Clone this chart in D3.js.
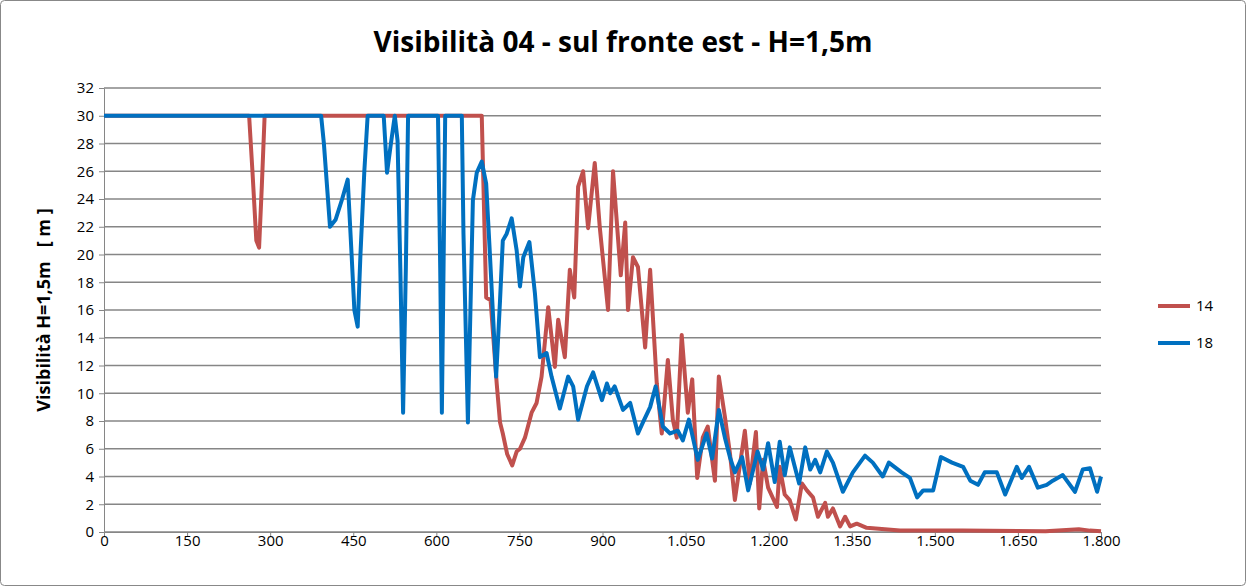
<!DOCTYPE html>
<html><head><meta charset="utf-8">
<script src="https://cdn.jsdelivr.net/npm/d3@7"></script>
<style>body{margin:0;background:#fff}text{font-family:"Open Sans","Liberation Sans",sans-serif}</style>
</head><body><svg id="c" width="1246" height="586"></svg>
<script>
const xTicks=[0,150,300,450,600,750,900,1050,1200,1350,1500,1650,1800];
const xTickLabels=["0","150","300","450","600","750","900","1.050","1.200","1.350","1.500","1.650","1.800"];
const yTicks=d3.range(0,33,2);
const seriesNames=["14","18"];
const colors=["#C0504D","#0070C0"];
const x14=[0,262,268,275,280,285,290,682,690,698,709,715,720,728,737,745,751,760,772,781,790,802,814,820,832,841,849,856,865,874,886,895,910,919,933,941,946,955,964,977,986,998,1007,1018,1027,1034,1043,1054,1062,1071,1081,1090,1103,1110,1121,1130,1139,1157,1166,1177,1183,1190,1199,1215,1220,1229,1238,1249,1260,1269,1280,1289,1302,1307,1316,1329,1338,1347,1359,1377,1437,1550,1700,1760,1780,1800];
const y14=[30,30,26,21,20.5,25,30,30,16.9,16.7,10.7,7.9,7.1,5.6,4.8,5.8,6,6.8,8.6,9.3,11.2,16.2,11.9,15.3,12.6,18.9,16.9,24.9,26,21.9,26.6,22,16,26,18.5,22.3,16,19.8,19.1,13.3,18.9,10.7,7.1,12.4,8.1,6.8,14.2,8.6,11,3.9,6.8,7.6,3.7,11.2,8.3,5.7,2.3,7.3,3.5,7.2,1.7,5.2,3.2,1.8,4.7,2.7,2.3,0.9,3.5,3,2.5,1.1,2.1,1.1,1.7,0.4,1.1,0.4,0.6,0.3,0.1,0.1,0.05,0.2,0.1,0.05];
const x18=[0,392,397,408,418,430,440,447,452,458,463,470,476,505,511,518,525,530,535,540,545,549,603,607,610,613,616,646,649,657,666,673,682,690,697,708,715,720,727,736,745,751,757,768,778,787,799,808,823,838,847,856,872,883,899,908,914,922,937,950,964,973,986,996,1009,1022,1036,1045,1056,1072,1088,1098,1110,1121,1130,1139,1152,1163,1180,1190,1199,1211,1220,1229,1238,1255,1266,1275,1284,1293,1305,1316,1334,1352,1374,1388,1406,1417,1440,1455,1468,1479,1497,1511,1531,1551,1564,1578,1590,1612,1627,1648,1657,1670,1686,1702,1713,1731,1753,1767,1780,1793,1800];
const y18=[30,30,28,22,22.5,24,25.4,20,16,14.8,20,26,30,30,25.9,28,30,28.2,19,8.6,19.1,30,30,19,8.6,19,30,30,21.5,7.9,23.9,25.9,26.7,25.1,19.8,11.2,16.7,21,21.5,22.6,20.3,17.7,19.8,20.9,17.2,12.6,12.9,11.2,8.9,11.2,10.5,8.1,10.5,11.5,9.5,10.7,10,10.5,8.8,9.3,7.1,7.9,9,10.5,7.6,7.1,7.3,6.6,8.1,5.2,7.1,5.3,8.8,6.8,5.4,4.3,5.4,3,5.8,4.5,6.4,3.6,6.5,4.1,6.1,3.5,6.1,4.5,5.2,4.3,5.8,5,2.9,4.3,5.5,5,4,5,4.3,3.9,2.5,3,3,5.4,5,4.7,3.7,3.4,4.3,4.3,2.7,4.7,3.9,4.7,3.2,3.4,3.7,4.1,2.9,4.5,4.6,2.9,4];

const svg=d3.select("#c");
svg.append("rect").attr("x",0.5).attr("y",0.5).attr("width",1245).attr("height",585).attr("rx",4).attr("fill","#fff").attr("stroke","#888");
const L=104,R=1101,T=88,B=532;
const x=d3.scaleLinear().domain([0,1800]).range([L,R]);
const y=d3.scaleLinear().domain([0,32]).range([B,T]);
svg.append("g").selectAll("line").data(yTicks).join("line")
 .attr("x1",L).attr("x2",R).attr("y1",d=>y(d)).attr("y2",d=>y(d)).attr("stroke","#868686").attr("stroke-width",1.3);
const ya=svg.append("g").attr("transform",`translate(${L},0)`).call(d3.axisLeft(y).tickValues(yTicks).tickSize(5).tickSizeOuter(0));
ya.selectAll("text").attr("font-size",15).attr("fill","#000").attr("dx",-2);
const xa=svg.append("g").attr("transform",`translate(0,${B})`).call(d3.axisBottom(x).tickValues(xTicks).tickFormat((d,i)=>xTickLabels[i]).tickSize(5).tickSizeOuter(0));
xa.selectAll("text").attr("font-size",15).attr("fill","#000").attr("dy",6);
svg.selectAll(".domain,.tick line").attr("stroke","#868686");
const line=d3.line().x(d=>x(d[0])).y(d=>y(d[1]));
const data=[d3.zip(x14,y14),d3.zip(x18,y18)];
data.forEach((d,i)=>svg.append("path").attr("d",line(d)).attr("fill","none").attr("stroke",colors[i]).attr("stroke-width",4).attr("stroke-linejoin","round"));
svg.append("text").attr("x",623).attr("y",52).attr("text-anchor","middle").attr("font-size",28).attr("font-weight","bold").text("Visibilità 04 - sul fronte est - H=1,5m");
svg.append("text").attr("transform","translate(50,310) rotate(-90)").attr("text-anchor","middle").attr("font-size",18).attr("font-weight","bold").style("white-space","pre").text("Visibilità H=1,5m   [ m ]");
seriesNames.forEach((n,i)=>{
 const ly=306+i*37;
 svg.append("line").attr("x1",1158).attr("x2",1190).attr("y1",ly).attr("y2",ly).attr("stroke",colors[i]).attr("stroke-width",4);
 svg.append("text").attr("x",1196).attr("y",ly+5).attr("font-size",15).text(n);
});
</script></body></html>
